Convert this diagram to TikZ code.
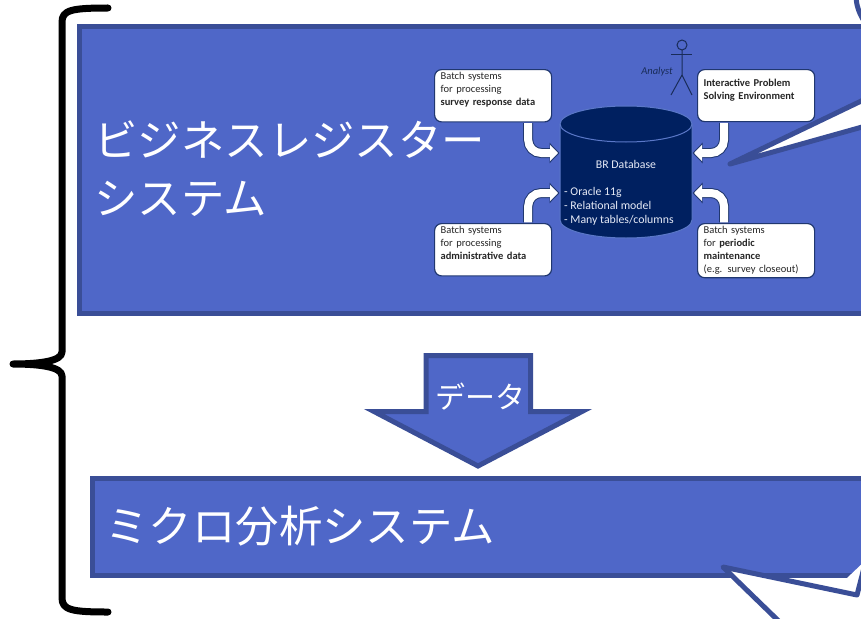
\documentclass[tikz,border=0pt]{standalone}
\usepackage{fontspec}
\setmainfont{Carlito}
\newfontfamily\jpfont{Noto Sans CJK JP}
\usetikzlibrary{arrows.meta,calc}

\definecolor{panelfill}{HTML}{4F67C8}
\definecolor{paneledge}{HTML}{3A4E97}
\definecolor{dbfill}{HTML}{002060}
\definecolor{dbedge}{HTML}{5B78C8}
\definecolor{boxedge}{HTML}{20376F}

\tikzset{
    panel/.style={draw=paneledge,fill=panelfill,line width=5pt,anchor=north west,inner sep=0pt},
    bigtext/.style={text=white,anchor=west,align=left,font=\jpfont\fontsize{43.4}{58}\selectfont},
    batchbox/.style={draw=boxedge,fill=white,line width=1.2pt,rounded corners=7pt,anchor=north west,
        minimum width=117pt,minimum height=52pt,text width=105pt,inner sep=3pt,align=left,text=black!85,
        font=\fontsize{10.5}{13}\selectfont},
    dbtext/.style={text=white!85!dbedge,font=\fontsize{11.8}{14}\selectfont},
    arrowedge/.style={draw=boxedge,line width=10pt,rounded corners=13pt,-{Triangle[length=10pt,width=20pt]}},
    arrowcore/.style={draw=white,line width=8pt,rounded corners=13pt,shorten >=1.5pt,-{Triangle[length=8pt,width=16pt]}},
    bubble/.style={draw=paneledge,fill=white,line width=5pt,line join=round,line cap=round}
}

\newcommand{\blockarrow}[2]{
    \draw[arrowedge] (#1) |- (#2);
    \draw[arrowcore] (#1) |- (#2);
}

\begin{document}
\begin{tikzpicture}[x=1pt,y=-1pt]
    \useasboundingbox (0,0) rectangle (861,618);
    \clip (0,0) rectangle (861,618);

    % Outer brace.
    \coordinate (bracetop) at (108,8);
    \coordinate (braceend) at (108,612);
    \coordinate (bracetip) at (13,364);
    \draw[line width=7pt,line cap=round,line join=round]
        (bracetop) .. controls (72,8) and (62,10) .. (62,22) -- (62,352)
        .. controls (62,361) and (40,364) .. (bracetip)
        .. controls (40,364) and (62,367) .. (62,376) -- (62,598)
        .. controls (62,610) and (72,612) .. (braceend);

    % Panels.
    \node[panel,minimum width=860pt,minimum height=287pt] (brpanel) at (77,24) {};
    \node[panel,minimum width=860pt,minimum height=97pt] (mapanel) at (90,476) {};
    \node[bigtext] (brtitle) at (91,169) {ビジネスレジスター\\システム};
    \node[bigtext] (matitle) at (102,526) {ミクロ分析システム};

    % Data arrow.
    \draw[draw=paneledge,fill=panelfill,line width=5pt,miter limit=10]
        (426,355.5) -- (530.5,355.5) -- (530.5,411.5) -- (582,411.5) -- (478,466)
        -- (374,411.5) -- (426,411.5) -- cycle;
    \node[text=white,font=\jpfont\fontsize{30}{32}\selectfont] (datalabel) at (480.5,397) {データ};

    % Database.
    \draw[draw=dbedge,fill=dbfill,line width=1pt] (560,124) -- (560,220)
        arc[start angle=180,end angle=360,x radius=66pt,y radius=18pt] -- (692,124)
        arc[start angle=0,end angle=180,x radius=66pt,y radius=18pt] -- cycle;
    \draw[draw=dbedge,line width=1pt] (560,124)
        arc[start angle=180,end angle=360,x radius=66pt,y radius=18pt];
    \node[dbtext] (dbname) at (626,164) {BR Database};
    \node[dbtext,anchor=west,align=left,inner sep=0pt] (dbnotes) at (564,206) {- Oracle 11g\\- Relational model\\- Many tables/columns};
    \coordinate (dbnw) at (559.5,153);
    \coordinate (dbne) at (692.5,153);
    \coordinate (dbsw) at (559.5,193);
    \coordinate (dbse) at (692.5,193);

    % Boxes.
    \node[batchbox] (surveybox) at (434,69) {Batch systems\\for processing\\\textbf{survey response data}\\~};
    \node[batchbox] (solvebox) at (697,69) {\textbf{Interactive Problem}\\\textbf{Solving Environment}\\~};
    \node[batchbox] (adminbox) at (434,223) {Batch systems\\for processing\\\textbf{administrative data}\\~};
    \node[batchbox] (maintbox) at (697,223) {Batch systems\\for \textbf{periodic}\\\textbf{maintenance}\\(e.g. survey closeout)};

    % Connections.
    \blockarrow{$(surveybox.south east)+(-24,0.6)$}{dbnw}
    \blockarrow{$(solvebox.south west)+(27,0.6)$}{dbne}
    \blockarrow{$(adminbox.north east)+(-24,-0.6)$}{dbsw}
    \blockarrow{$(maintbox.north west)+(27,-0.6)$}{dbse}

    % Analyst.
    \draw[boxedge!80!black,line width=1pt] (682,45) circle (5);
    \coordinate (neck) at (682,50);
    \coordinate (hip) at (682,75);
    \draw[boxedge!80!black,line width=1pt] (neck) -- (hip) -- (671,95);
    \draw[boxedge!80!black,line width=1pt] (hip) -- (692,95);
    \draw[boxedge!80!black,line width=1pt] (671,55) -- (692,55);
    \node[text=boxedge!80!black,font=\itshape\fontsize{10.5}{12}\selectfont] (analyst) at (657,72) {Analyst};

    % Speech bubbles.
    \coordinate (upperstart) at (880,92);
    \coordinate (uppertip) at (730,164);
    \coordinate (upperend) at (880,122);
    \draw[bubble] (upperstart) -- (uppertip) -- (upperend);
    \coordinate (lowerstart) at (790,632);
    \coordinate (lowertip) at (723,567);
    \coordinate (lowerbend) at (857,595);
    \coordinate (lowerend) at (866,560);
    \draw[bubble] (lowerstart) -- (lowertip) -- (lowerbend) -- (lowerend);
    \draw[draw=paneledge,line width=5pt] (856,-5) .. controls (856,5) and (859,14) .. (866,24);
\end{tikzpicture}
\end{document}
